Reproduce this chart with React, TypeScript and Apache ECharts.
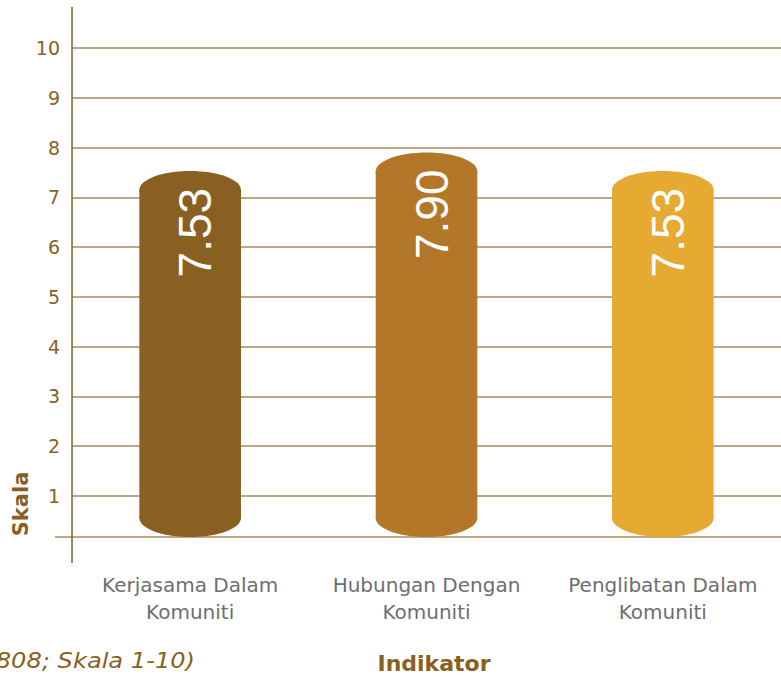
import React, { useEffect, useRef } from "react";
import * as echarts from "echarts";

// ---- data ----
const categories = ["Kerjasama Dalam\nKomuniti", "Hubungan Dengan\nKomuniti", "Penglibatan Dalam\nKomuniti"];
const values = [7.53, 7.9, 7.53];
const valueLabels = ["7.53", "7.90", "7.53"];
const barColors = ["#8a5f22", "#b37729", "#e6a932"];
const yMin = 0;
const yMax = 10;
const yInterval = 1;
const BASE = 0.17; // floor of the cylinders
const yAxisTitle = "Skala";
const xAxisTitle = "Indikator";
const noteText = "808; Skala 1-10)";

const BROWN = "#8a5f22";
const GRID = "#a98a5c";
const GRAY = "#6d6e71";

export default function App() {
  const ref = useRef<HTMLDivElement>(null);
  useEffect(() => {
    if (!ref.current) return;
    const chart = echarts.init(ref.current, undefined, { renderer: "svg" });
    const option: any = {
      animation: false,
      backgroundColor: "#ffffff",
      grid: { left: 72, right: 0, top: 48, bottom: 131.5, containLabel: false },
      xAxis: {
        type: "category",
        data: categories,
        axisLine: { show: false },
        axisTick: { show: false },
        axisLabel: {
          color: GRAY,
          fontFamily: "DejaVu Sans",
          fontSize: 20,
          lineHeight: 27,
          margin: 26,
          interval: 0,
        },
      },
      yAxis: {
        type: "value",
        min: yMin,
        max: yMax,
        interval: yInterval,
        axisLine: { show: false },
        axisTick: { show: false },
        axisLabel: {
          color: BROWN,
          fontFamily: "DejaVu Sans",
          fontSize: 19,
          margin: 12,
          showMinLabel: false,
        },
        splitLine: { show: true, showMinLine: false, lineStyle: { color: GRID, width: 1.5 } },
      },
      series: [
        {
          type: "custom",
          data: values.map((v, i) => [i, v]),
          encode: { x: 0, y: 1 },
          z: 3,
          renderItem: (params: any, api: any) => {
            const idx = api.value(0);
            const val = api.value(1);
            const top = api.coord([idx, val]);
            const bottom = api.coord([idx, BASE]);
            const band = api.size([1, 0])[0];
            const w = band * 0.43;
            const ry = 19;
            const cx = top[0];
            const color = barColors[params.dataIndex];
            return {
              type: "group",
              children: [
                {
                  type: "rect",
                  shape: { x: cx - w / 2, y: top[1] + ry, width: w, height: bottom[1] - ry - (top[1] + ry) },
                  style: { fill: color },
                },
                { type: "ellipse", shape: { cx, cy: top[1] + ry, rx: w / 2, ry }, style: { fill: color } },
                { type: "ellipse", shape: { cx, cy: bottom[1] - ry, rx: w / 2, ry }, style: { fill: color } },
                {
                  type: "text",
                  x: cx + 5,
                  y: top[1] + 17,
                  rotation: Math.PI / 2,
                  style: {
                    text: valueLabels[params.dataIndex],
                    fill: "#ffffff",
                    fontFamily: "Liberation Sans",
                    fontSize: 46,
                    align: "right",
                    verticalAlign: "middle",
                  },
                },
              ],
            };
          },
        },
      ],
    };
    chart.setOption(option);
    const floorY = chart.convertToPixel({ yAxisIndex: 0 }, BASE) as number;
    chart.setOption({
      graphic: [
        { type: "line", z: 1, shape: { x1: 55, y1: floorY, x2: 781, y2: floorY }, style: { stroke: GRID, lineWidth: 1.5 } },
        { type: "line", z: 4, shape: { x1: 72, y1: 7, x2: 72, y2: 563 }, style: { stroke: BROWN, lineWidth: 1.5 } },
        {
          type: "text",
          x: 21,
          y: 504,
          rotation: Math.PI / 2,
          style: { text: yAxisTitle, fill: BROWN, fontFamily: "DejaVu Sans", fontWeight: "bold", fontSize: 21, align: "center", verticalAlign: "middle" },
        },
        {
          type: "text",
          x: 434,
          y: 663,
          style: { text: xAxisTitle, fill: BROWN, fontFamily: "DejaVu Sans", fontWeight: "bold", fontSize: 22, align: "center", verticalAlign: "middle" },
        },
        {
          type: "text",
          x: 195,
          y: 661,
          scaleX: 1.15,
          style: { text: noteText, fill: BROWN, fontFamily: "DejaVu Sans", fontStyle: "italic", fontSize: 21, align: "right", verticalAlign: "middle" },
        },
      ],
    });
    return () => chart.dispose();
  }, []);
  return <div ref={ref} style={{ position: "fixed", left: 0, top: 0, width: 781, height: 677 }} />;
}
